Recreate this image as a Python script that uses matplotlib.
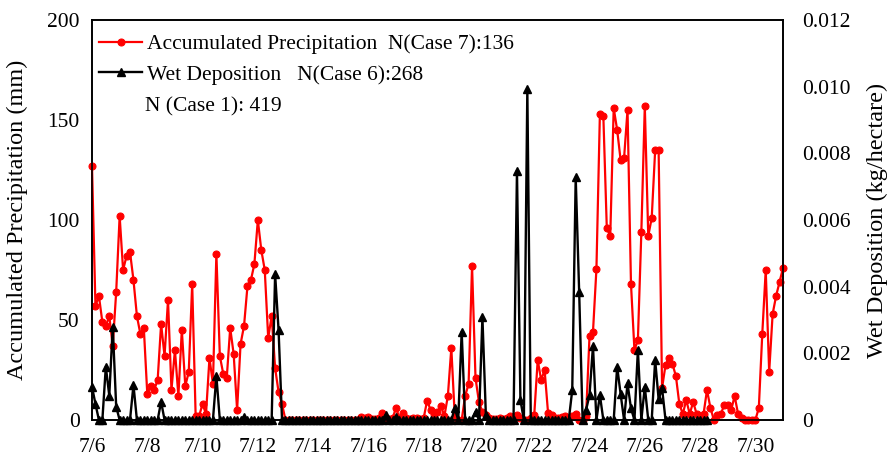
import numpy as np
import matplotlib
matplotlib.use("Agg")
import matplotlib.pyplot as plt
from matplotlib.ticker import FuncFormatter

plt.rcParams['font.family'] = ['Liberation Serif', 'DejaVu Serif']

# 3-hourly steps from 7/6 00:00 to 7/31 00:00 (201 points)
steps_per_day = 8
start_day = 6

precip = [
    127, 57, 62, 49, 47, 52, 37, 64, 102, 75,
    82, 84, 70, 52, 43, 46, 13, 17, 15, 20,
    48, 32, 60, 15, 35, 12, 45, 17, 24, 68,
    2, 2, 8, 3, 31, 18, 83, 32, 23, 21,
    46, 33, 5, 38, 47, 67, 70, 78, 100, 85,
    75, 41, 52, 26, 14, 8, 0, 0, 0, 0,
    0, 0, 0, 0, 0, 0, 0, 0, 0, 0,
    0, 0, 0, 0, 0, 0, 0, 0, 1.5, 1,
    1.5, 0.5, 0.5, 1, 3.5, 1, 0.5, 1, 6, 1,
    3.5, 1, 0.5, 1, 1, 0.5, 1, 9.7, 5, 3,
    4, 7, 2, 12, 36, 1.7, 0, 0, 12, 18,
    77, 21, 9, 4, 2.5, 1, 0.5, 0.5, 1, 0.5,
    1, 2, 1, 2.5, 1, 0, 0, 1, 2.5, 30,
    20, 25, 3.5, 2.5, 1, 1, 1.5, 2, 1, 2,
    3, 0, 0, 2, 42, 44, 75.5, 153, 152, 96,
    92, 156, 145, 130, 131, 155, 68, 35, 40, 94,
    157, 92, 101, 135, 135, 16, 27.5, 31, 28, 22,
    8, 3, 10, 3, 9, 3, 2, 3, 15, 6,
    0, 2.5, 3, 7.5, 7.5, 5, 12, 3, 1, 0,
    0, 0, 0, 6, 43, 75, 24, 53, 62, 69,
    76,
]

nan = float('nan')
wetdep = [
    0.001, 0.00048, 0, 0, 0.0016, 0.00073, 0.0028, 0.0004, 0, 0,
    0, 0, 0.00105, 0, 0, 0, 0, 0, 0, 0,
    0.00055, 0, 0, 0, 0, 0, 0, 0, 0, 0,
    0, 0, 0, 0, 0, 0, 0.00132, 0, 0, 0,
    0, 0, 0, 0, 0.0001, 0, 0, 0, 0, 0,
    0, 0, 0, 0.00438, 0.0027, 0, 0, 0, 0, 0,
    0, 0, 0, 0, 0, 0, 0, 0, 0, 0,
    0, 0, 0, 0, 0, 0, 0, 0, 0, 0,
    0, 0, 0, 0, 0, 0.00015, 0, 0, 0.0001, 0,
    0, 0, 0, 0, 0, 0, 0, 0, 0, 0,
    0, 0, 0, 0, 0, 0.00035, 0, 0.00265, 0, 0,
    0, 0.00025, 0, 0.00308, 0.00015, 0, 0, 0, 0, 0,
    0, 0, 0, 0.00748, 0.0006, 0, 0.00992, 0, 0, 0,
    0, 0, 0, 0, 0, 0, 0, 0, 0, 0.0009,
    0.00728, 0.00385, 0, 0.0003, 0.00075, 0.00222, 0, 0.00075, 0, 0,
    0, 0, 0.0016, 0.00078, 0, 0.0011, 0.00035, 0, 0.0021, 0,
    0.001, 0, 0, 0.0018, 0.00062, 0.00095, 0, 0, 0, 0,
    0, 0, 0, 0, 0, 0, 0, 0, 0, nan,
    nan, nan, nan, nan, nan, nan, nan, nan, nan, nan,
    nan, nan, nan, nan, nan, nan, nan, nan, nan, nan,
    nan,
]

tick_days = [6, 8, 10, 12, 14, 16, 18, 20, 22, 24, 26, 28, 30]
tick_labels = [f"7/{d}" for d in tick_days]
left_ticks = [0, 50, 100, 150, 200]
right_ticks = [0, 0.002, 0.004, 0.006, 0.008, 0.010, 0.012]

label_precip = "Accumulated Precipitation  N(Case 7):136"
label_wet = "Wet Deposition   N(Case 6):268"
note_text = "N (Case 1): 419"

x = start_day + np.arange(len(precip)) / steps_per_day

W, H = 892, 459
fig = plt.figure(figsize=(W / 100, H / 100), dpi=100)
ax = fig.add_axes([92 / W, 1 - 420 / H, (783 - 92) / W, 400 / H])
ax2 = ax.twinx()

fs = 15.5
l1, = ax.plot(x, precip, color='#ff0000', lw=1.6, marker='o', ms=5.0,
              markeredgewidth=0.8, clip_on=False, zorder=3)
l2, = ax2.plot(x, wetdep, color='black', lw=1.7, marker='^', ms=5.5,
               clip_on=False, zorder=3)

ax.set_xlim(6, 31)
ax.set_ylim(0, 200)
ax2.set_ylim(0, 0.012)

ax.set_xticks(tick_days)
ax.set_xticklabels(tick_labels, fontsize=fs)
ax.set_yticks(left_ticks)
ax.tick_params(axis='y', labelsize=fs, length=0, pad=9)
ax.tick_params(axis='x', length=0, pad=13)
ax2.set_yticks(right_ticks)
ax2.yaxis.set_major_formatter(FuncFormatter(lambda v, p: '0' if v == 0 else f'{v:.3f}'))
ax2.tick_params(axis='y', labelsize=fs, length=0, pad=14)

for a in (ax, ax2):
    for s in a.spines.values():
        s.set_linewidth(1.2)
        s.set_color('black')

ax.set_ylabel("Accumulated Precipitation (mm)", fontsize=17.5)
ax.yaxis.set_label_coords(-0.093, 0.5)
ax2.set_ylabel("Wet Deposition (kg/hectare)", fontsize=17.5, rotation=90)
ax2.yaxis.set_label_coords(1.122, 0.5)

leg = ax2.legend([l1, l2], [label_precip, label_wet], loc='upper left',
                 bbox_to_anchor=(99 / W, 1 - 34 / H), bbox_transform=fig.transFigure,
                 frameon=False, fontsize=fs, handlelength=2.0, handletextpad=0.25,
                 borderpad=0, borderaxespad=0, labelspacing=0.5)
fig.text(145 / W, 1 - 107 / H, note_text, fontsize=fs, ha='left', va='center')

fig.savefig("out.png", dpi=100)
